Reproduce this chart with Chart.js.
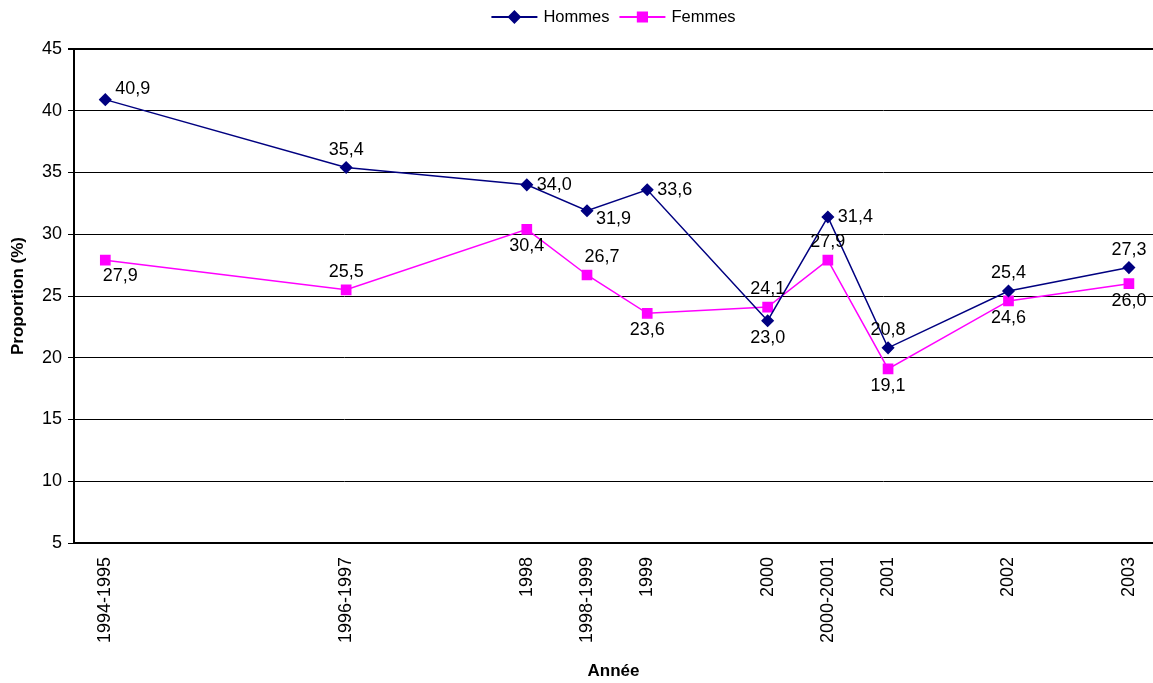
<!DOCTYPE html>
<html lang="fr">
<head>
    <meta charset="UTF-8">
    <script src="https://cdn.jsdelivr.net/npm/chart.js"></script>
    <title>Proportion (%) par année</title>
    <style>
        body { margin: 0; background: #fff; }
        .chart-box { width: 1153px; height: 683px; position: relative; }
    </style>
</head>
<body>
    <div class="chart-box">
        <canvas id="propChart"></canvas>
    </div>

    <script>
        // Périodes d'enquête et milieu de chaque période (en années)
        const periods = ['1994-1995', '1996-1997', '1998', '1998-1999', '1999', '2000', '2000-2001', '2001', '2002', '2003'];
        const periodMid = [1995, 1997, 1998.5, 1999, 1999.5, 2000.5, 2001, 2001.5, 2002.5, 2003.5];

        const hommes = [40.9, 35.4, 34.0, 31.9, 33.6, 23.0, 31.4, 20.8, 25.4, 27.3];
        const femmes = [27.9, 25.5, 30.4, 26.7, 23.6, 24.1, 27.9, 19.1, 24.6, 26.0];

        const yTicks = [5, 10, 15, 20, 25, 30, 35, 40, 45];

        // where each value label sits relative to its point
        // r = right, tr = above right, br = below right, t = above, b = below, ts/bs = above/below shifted right
        const hommesLabelPos = ['tr', 't', 'r', 'br', 'r', 'b', 'r', 't', 't', 't'];
        const femmesLabelPos = ['bs', 't', 'b', 'ts', 'b', 't', 't', 'b', 'b', 'b'];

        const FONT = '"Liberation Sans", Arial, sans-serif';

        // Value labels drawn next to each point
        const valueLabels = {
            id: 'valueLabels',
            afterDatasetsDraw(chart) {
                const ctx = chart.ctx;
                ctx.save();
                ctx.font = '18px ' + FONT;
                ctx.fillStyle = '#000';
                chart.data.datasets.forEach((ds, i) => {
                    const meta = chart.getDatasetMeta(i);
                    meta.data.forEach((pt, j) => {
                        const txt = ds.data[j].y.toFixed(1).replace('.', ',');
                        const pos = ds.labelPos[j];
                        let x = pt.x, y = pt.y;
                        ctx.textAlign = 'center';
                        ctx.textBaseline = 'middle';
                        if (pos === 'r') { ctx.textAlign = 'left'; x += 10; }
                        else if (pos === 'tr') { ctx.textAlign = 'left'; x += 10; y -= 11; }
                        else if (pos === 'br') { ctx.textAlign = 'left'; x += 9; y += 8; }
                        else if (pos === 't') { y -= 18; }
                        else if (pos === 'b') { y += 17; }
                        else if (pos === 'ts') { x += 15; y -= 18; }
                        else if (pos === 'bs') { x += 15; y += 16; }
                        ctx.fillText(txt, x, y);
                    });
                });
                ctx.restore();
            }
        };

        // Legend with line + marker, like the original
        const lineLegend = {
            id: 'lineLegend',
            afterDraw(chart) {
                const ctx = chart.ctx;
                const area = chart.chartArea;
                ctx.save();
                ctx.font = '16.5px ' + FONT;
                const items = chart.data.datasets.map(ds => ({
                    ds, w: 46 + 6 + ctx.measureText(ds.label).width
                }));
                const gap = 10;
                const total = items.reduce((s, it) => s + it.w, 0) + gap * (items.length - 1);
                let x = (area.left + area.right) / 2 - total / 2;
                const y = 17;
                items.forEach(it => {
                    ctx.strokeStyle = it.ds.borderColor;
                    ctx.lineWidth = 2;
                    ctx.beginPath();
                    ctx.moveTo(x, y);
                    ctx.lineTo(x + 46, y);
                    ctx.stroke();
                    Chart.helpers.drawPoint(ctx, {
                        pointStyle: it.ds.pointStyle,
                        radius: it.ds.pointRadius,
                        borderWidth: 1
                    }, x + 23, y);
                    ctx.fillStyle = it.ds.pointBackgroundColor;
                    ctx.fill();
                    ctx.fillStyle = '#000';
                    ctx.textAlign = 'left';
                    ctx.textBaseline = 'middle';
                    ctx.fillText(it.ds.label, x + 52, y);
                    x += it.w + gap;
                });
                ctx.restore();
            }
        };

        const ctx = document.getElementById('propChart').getContext('2d');
        const chart = new Chart(ctx, {
            type: 'line',
            data: {
                datasets: [{
                    label: 'Hommes',
                    data: periodMid.map((t, i) => ({ x: t, y: hommes[i] })),
                    labelPos: hommesLabelPos,
                    borderColor: '#000080',
                    backgroundColor: '#000080',
                    pointBackgroundColor: '#000080',
                    pointBorderColor: '#000080',
                    pointStyle: 'rectRot',
                    pointRadius: 5.5,
                    borderWidth: 1.5,
                    tension: 0
                }, {
                    label: 'Femmes',
                    data: periodMid.map((t, i) => ({ x: t, y: femmes[i] })),
                    labelPos: femmesLabelPos,
                    borderColor: '#FF00FF',
                    backgroundColor: '#FF00FF',
                    pointBackgroundColor: '#FF00FF',
                    pointBorderColor: '#FF00FF',
                    pointStyle: 'rect',
                    pointRadius: 6.5,
                    borderWidth: 1.5,
                    tension: 0
                }]
            },
            options: {
                responsive: true,
                maintainAspectRatio: false,
                animation: false,
                layout: {
                    autoPadding: false,
                    padding: { top: 49, right: 0, left: 0, bottom: 0 }
                },
                plugins: {
                    legend: { display: false },
                    tooltip: { enabled: false }
                },
                scales: {
                    x: {
                        type: 'linear',
                        min: 1994.74,
                        max: 2003.7,
                        afterBuildTicks: (scale) => {
                            scale.ticks = periodMid.map(v => ({ value: v }));
                        },
                        afterFit: (scale) => {
                            scale.height = 140;
                            scale.paddingLeft = 0;
                            scale.paddingRight = 0;
                        },
                        grid: { display: false },
                        border: { display: true, color: '#000', width: 2 },
                        ticks: {
                            autoSkip: false,
                            minRotation: 90,
                            maxRotation: 90,
                            padding: 6,
                            color: '#000',
                            font: { family: FONT, size: 18 },
                            callback: (value) => periods[periodMid.indexOf(value)]
                        },
                        title: {
                            display: true,
                            text: 'Année',
                            color: '#000',
                            font: { family: FONT, size: 17, weight: 'bold' },
                            padding: { top: 0, bottom: 1 }
                        }
                    },
                    y: {
                        min: 5,
                        max: 45,
                        afterBuildTicks: (scale) => {
                            scale.ticks = yTicks.map(v => ({ value: v }));
                        },
                        afterFit: (scale) => { scale.width = 74; },
                        grid: {
                            color: '#000',
                            lineWidth: (c) => (c.tick && c.tick.value === 45 ? 2 : 1),
                            drawTicks: true,
                            tickLength: 6
                        },
                        border: { display: true, color: '#000', width: 2 },
                        ticks: {
                            padding: 6,
                            color: '#000',
                            font: { family: FONT, size: 18 }
                        },
                        title: {
                            display: true,
                            text: 'Proportion (%)',
                            color: '#000',
                            font: { family: FONT, size: 17, weight: 'bold' },
                            padding: { top: 8, bottom: 0 }
                        }
                    }
                }
            },
            plugins: [valueLabels, lineLegend]
        });
    </script>
</body>
</html>
